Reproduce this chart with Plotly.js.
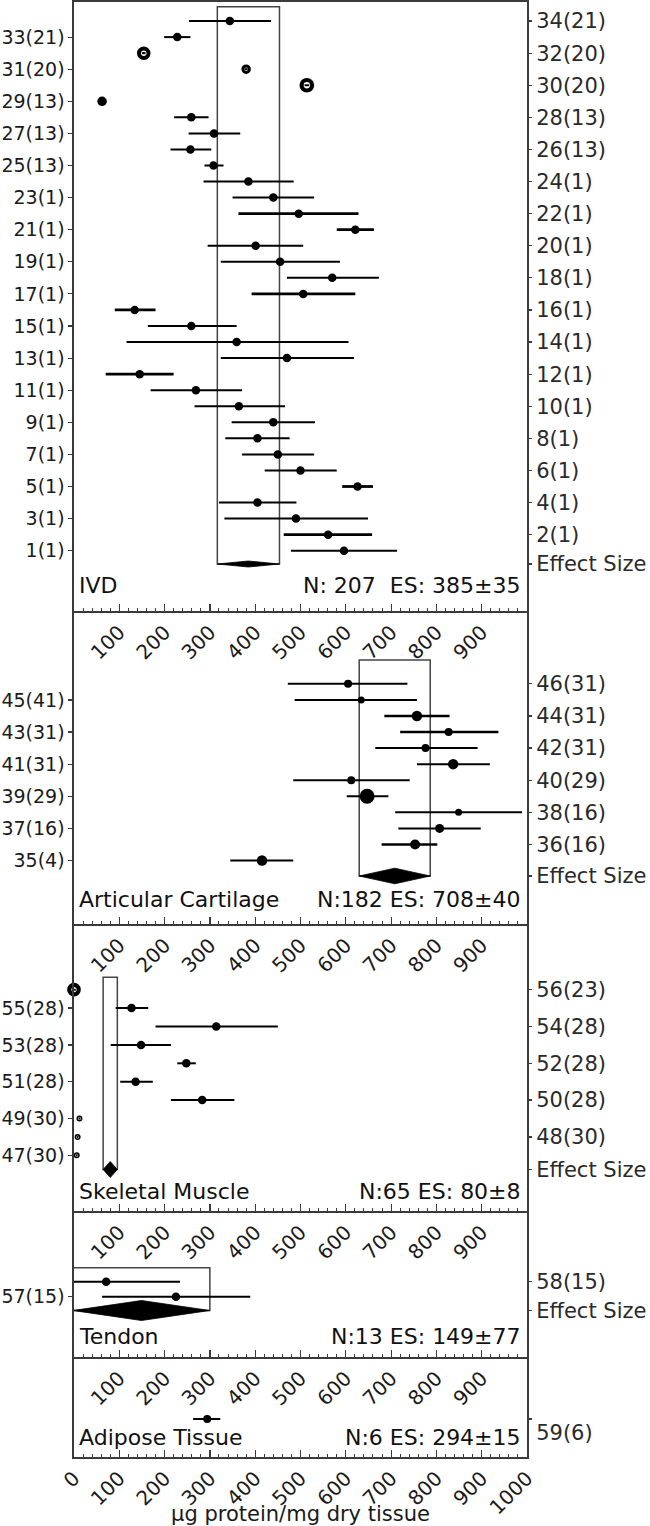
<!DOCTYPE html>
<html><head><meta charset="utf-8">
<script src="https://cdn.plot.ly/plotly-3.0.1.min.js"></script>
<style>html,body{margin:0;padding:0;background:#fff}#chart{width:650px;height:1526px}</style>
</head><body><div id="chart"></div>
<script>
// ================= DATA =================
const panelNames = ['IVD', 'Articular Cartilage', 'Skeletal Muscle', 'Tendon', 'Adipose Tissue'];
const panelN = [207, 182, 65, 13, 6];
const panelES = [385, 708, 80, 149, 294];
const panelSE = [35, 40, 8, 77, 15];

// IVD (studies 1-34)
const ivdRows = [1,2,3,4,5,6,7,8,9,10,11,12,13,14,15,16,17,18,19,20,21,22,23,24,25,26,27,28,29,30,31,32,33,34];
const ivdRefs = [1,1,1,1,1,1,1,1,1,1,1,1,1,1,1,1,1,1,1,1,1,1,1,1,13,13,13,13,13,20,20,20,21,21];
const ivdMean = [596,561,490,405,626,500,450,405,440,364,269,145,470,359,259,134,506,570,455,401,621,496,440,385,308,257,309,259,62,514,380,154,228,344];
const ivdLo   = [479,463,332,320,592,421,371,334,348,266,169,70,324,116,163,90,392,470,324,295,580,363,350,286,288,213,253,221,58,509,377,150,199,254];
const ivdHi   = [713,658,649,491,660,580,530,476,532,466,371,220,618,606,359,180,621,673,587,506,662,628,530,485,330,303,367,297,66,519,383,158,257,435];

// Articular cartilage (studies 35-46)
const acRows = [35,36,37,38,39,40,41,42,43,44,45,46];
const acRefs = [4,16,16,16,29,29,31,31,31,31,41,31];
const acMean = [415,753,807,849,647,612,837,776,827,757,634,605];
const acLo   = [345,679,716,709,602,484,757,665,720,685,487,472];
const acHi   = [484,802,898,989,694,741,918,891,937,829,757,736];

// Skeletal muscle (studies 47-56)
const smRows = [47,48,49,50,51,52,53,54,55,56];
const smRefs = [30,30,30,28,28,28,28,28,28,23];
const smMean = [6,8,12,283,136,248,148,314,127,0];
const smLo   = [4,6,10,214,102,228,81,180,92,-4];
const smHi   = [8,10,14,354,174,269,214,450,164,4];

// Tendon (studies 57-58)
const tdRows = [57,58];
const tdRefs = [15,15];
const tdMean = [225,71];
const tdLo   = [62,-92];
const tdHi   = [389,234];

// Adipose tissue (study 59)
const atRows = [59];
const atRefs = [6];
const atMean = [294];
const atLo   = [263];
const atHi   = [323];

const xTickVals = [100,200,300,400,500,600,700,800,900];
const xTickValsBottom = [0,100,200,300,400,500,600,700,800,900,1000];
const xTitle = 'µg protein/mg dry tissue';
const esLabel = 'Effect Size';

// ================= STYLE (marker styling per study) =================
const ivdSym  = ivdRows.map(r => [30,31,32].includes(r) ? 'circle-open' : 'circle');
const ivdSize = ivdRows.map(r => r===30 ? 10.5 : r===31 ? 6.5 : r===32 ? 9.5 : r===29 ? 9.5 : 8.5);
const ivdLw   = ivdRows.map(r => r===30 ? 4.2 : r===31 ? 3 : r===32 ? 4 : 0);
const ivdCiW  = ivdRows.map(r => [2,5,12,16,17,21,22].includes(r) ? 2.8 : 2);

const acSym  = acRows.map(() => 'circle');
const acSize = [10.5,10,9,7,15,8,10.5,8,8,10.5,7,8];
const acLw   = acRows.map(() => 0);
const acCiW  = acRows.map(r => [36,43,44].includes(r) ? 2.6 : 2);

const smSym  = smRows.map(r => [47,48,49,56].includes(r) ? 'circle-open' : 'circle');
const smSize = smRows.map(r => r===56 ? 9.5 : [47,48,49].includes(r) ? 4.5 : 8.5);
const smLw   = smRows.map(r => r===56 ? 4.2 : [47,48,49].includes(r) ? 1.5 : 0);
const smCiW  = smRows.map(() => 2);

const tdSym = ['circle','circle'], tdSize = [8.5,8.5], tdLw = [0,0], tdCiW = [2,2];
const atSym = ['circle'], atSize = [8], atLw = [0], atCiW = [2];

// ================= GEOMETRY (pixels) =================
const W = 650, H = 1526;
const M = {l: 74, r: 123, t: 2, b: 69};
const plotTop = M.t, plotBot = H - M.b, plotH = plotBot - plotTop;
const FONT = 'DejaVu Sans';
const AX = '#3a3a3a';

const panels = [
  {rows: ivdRows, refs: ivdRefs, mean: ivdMean, lo: ivdLo, hi: ivdHi, sym: ivdSym, size: ivdSize, lw: ivdLw, ciw: ivdCiW,
   top: 2, bot: 611, refRow: 1, refPx: 550.7, rowPx: 16.05, esPx: 564, boxTopPx: 6.7, diamH: 3, textPx: 585},
  {rows: acRows, refs: acRefs, mean: acMean, lo: acLo, hi: acHi, sym: acSym, size: acSize, lw: acLw, ciw: acCiW,
   top: 611, bot: 924, refRow: 35, refPx: 860.5, rowPx: 16.06, esPx: 876, boxTopPx: 660, diamH: 7.8, textPx: 900},
  {rows: smRows, refs: smRefs, mean: smMean, lo: smLo, hi: smHi, sym: smSym, size: smSize, lw: smLw, ciw: smCiW,
   top: 924, bot: 1211, refRow: 47, refPx: 1155.3, rowPx: 18.4, esPx: 1169.5, boxTopPx: 977.3, diamH: 8, textPx: 1191},
  {rows: tdRows, refs: tdRefs, mean: tdMean, lo: tdLo, hi: tdHi, sym: tdSym, size: tdSize, lw: tdLw, ciw: tdCiW,
   top: 1211, bot: 1357, refRow: 57, refPx: 1296.7, rowPx: 15, esPx: 1310.5, boxTopPx: 1267.7, diamH: 10, textPx: 1336},
  {rows: atRows, refs: atRefs, mean: atMean, lo: atLo, hi: atHi, sym: atSym, size: atSize, lw: atLw, ciw: atCiW,
   top: 1357, bot: 1457, refRow: 59, refPx: 1419, rowPx: 15, esPx: null, boxTopPx: null, diamH: 0, textPx: 1437,
   allRight: true, rightShift: 14}
];

const traces = [];
const layout = {
  width: W, height: H, margin: M,
  paper_bgcolor: '#fff', plot_bgcolor: '#fff',
  showlegend: false, shapes: [], annotations: [],
  font: {family: FONT, color: '#1a1a1a'}
};

panels.forEach((p, i) => {
  const k = i + 1;
  const xa = k === 1 ? 'x' : 'x' + k;
  const ya = k === 1 ? 'y' : 'y' + k;
  const yr = 'y' + (k + 5);
  const toRow = px => p.refRow + (p.refPx - px) / p.rowPx;
  const yRange = [toRow(p.bot), toRow(p.top)];
  const domain = [(plotBot - p.bot) / plotH, (plotBot - p.top) / plotH];
  const isLast = i === panels.length - 1;
  const esRow = p.esPx !== null ? toRow(p.esPx) : null;

  const xaxis = {
    domain: [0, 1], anchor: ya, range: [0, 1000],
    showline: true, mirror: i === 0, linecolor: AX, linewidth: 1.6,
    ticks: 'inside', ticklen: 7, tickwidth: 1.2, tickcolor: AX,
    tickmode: 'array', tickvals: isLast ? xTickValsBottom : xTickVals,
    ticktext: (isLast ? xTickValsBottom : xTickVals).map(String),
    tickangle: -45, tickfont: {family: FONT, size: 20, color: '#1a1a1a'},
    minor: {ticks: 'inside', ticklen: 3.5, tickwidth: 1, tickcolor: AX, tickmode: 'linear', tick0: 0, dtick: 20, showgrid: false},
    showgrid: false, zeroline: false, fixedrange: true
  };
  if (isLast) xaxis.title = {text: xTitle, font: {family: FONT, size: 21, color: '#1a1a1a'}, standoff: 0};
  layout['xaxis' + (k === 1 ? '' : k)] = xaxis;

  const idx = p.rows.map((r, j) => j);
  const leftIdx = p.allRight ? [] : idx.filter(j => p.rows[j] % 2 === 1);
  const rightIdx = p.allRight ? idx : idx.filter(j => p.rows[j] % 2 === 0);
  const leftVals = leftIdx.map(j => p.rows[j]);
  const leftText = leftIdx.map(j => `${p.rows[j]}(${p.refs[j]})`);
  const rightVals = rightIdx.map(j => p.rows[j]);
  const rightText = rightIdx.map(j => `${p.rows[j]}(${p.refs[j]})`);
  if (esRow !== null) { rightVals.push(esRow); rightText.push(esLabel); }

  layout['yaxis' + (k === 1 ? '' : k)] = {
    domain: domain, anchor: xa, range: yRange,
    showline: true, mirror: true, linecolor: AX, linewidth: 1.6,
    ticks: leftVals.length ? 'outside' : '', ticklen: 4, tickwidth: 1.2, tickcolor: AX,
    tickmode: 'array', tickvals: leftVals, ticktext: leftText,
    tickfont: {family: FONT, size: 19, color: '#1a1a1a'},
    showgrid: false, zeroline: false, fixedrange: true
  };
  const ry = {
    overlaying: ya, side: 'right', anchor: xa, range: yRange,
    showline: false, ticks: 'outside', ticklen: 4, tickwidth: 1.2, tickcolor: AX,
    tickmode: 'array', tickvals: rightVals, ticktext: rightText,
    tickfont: {family: FONT, size: 21, color: '#2a2a2a'},
    showgrid: false, zeroline: false, fixedrange: true
  };
  if (p.rightShift) ry.ticklabelshift = p.rightShift;
  layout['yaxis' + (k + 5)] = ry;

  // dummy trace to bind right axis
  traces.push({type: 'scatter', x: [500], y: [p.refRow], xaxis: xa, yaxis: yr, mode: 'markers',
    marker: {opacity: 0}, hoverinfo: 'skip'});

  // summary box + diamond
  if (esRow !== null) {
    const es = panelES[i], se = panelSE[i];
    const lo = es - 1.96 * se, hi = es + 1.96 * se;
    layout.shapes.push({type: 'rect', xref: xa, yref: ya, x0: lo, x1: hi, y0: esRow, y1: toRow(p.boxTopPx),
      line: {color: '#444', width: 1.5}, fillcolor: 'rgba(0,0,0,0)', layer: 'below'});
    const dh = p.diamH / p.rowPx;
    traces.push({type: 'scatter', xaxis: xa, yaxis: ya, mode: 'lines', fill: 'toself',
      x: [lo, es, hi, es, lo], y: [esRow, esRow + dh, esRow, esRow - dh, esRow],
      line: {color: '#000', width: 0.8}, fillcolor: '#000', hoverinfo: 'skip'});
  }

  // CI lines
  p.rows.forEach((r, j) => {
    traces.push({type: 'scatter', xaxis: xa, yaxis: ya, mode: 'lines',
      x: [p.lo[j], p.hi[j]], y: [r, r], line: {color: '#000', width: p.ciw[j]}, hoverinfo: 'skip'});
  });
  // point estimates
  traces.push({type: 'scatter', xaxis: xa, yaxis: ya, mode: 'markers', cliponaxis: false,
    x: p.mean, y: p.rows,
    marker: {color: '#000', opacity: 1, symbol: p.sym, size: p.size, line: {color: '#000', width: p.lw}}});

  // annotations
  const tRow = toRow(p.textPx);
  const sep = i === 0 ? ' ' : '';
  const gap = i === 0 ? '\u00a0\u00a0' : ' ';
  layout.annotations.push({xref: xa, yref: ya, x: 0, y: tRow, xanchor: 'left', yanchor: 'middle', xshift: 3,
    text: panelNames[i], showarrow: false, font: {family: FONT, size: 22, color: '#111'}});
  layout.annotations.push({xref: xa, yref: ya, x: 1000, y: tRow, xanchor: 'right', yanchor: 'middle', xshift: -4,
    text: `N:${sep}${panelN[i]}${gap}ES: ${panelES[i]}±${panelSE[i]}`, showarrow: false,
    font: {family: FONT, size: 22, color: '#111'}});
});

Plotly.newPlot('chart', traces, layout, {staticPlot: true, displayModeBar: false});
</script>
</body></html>
